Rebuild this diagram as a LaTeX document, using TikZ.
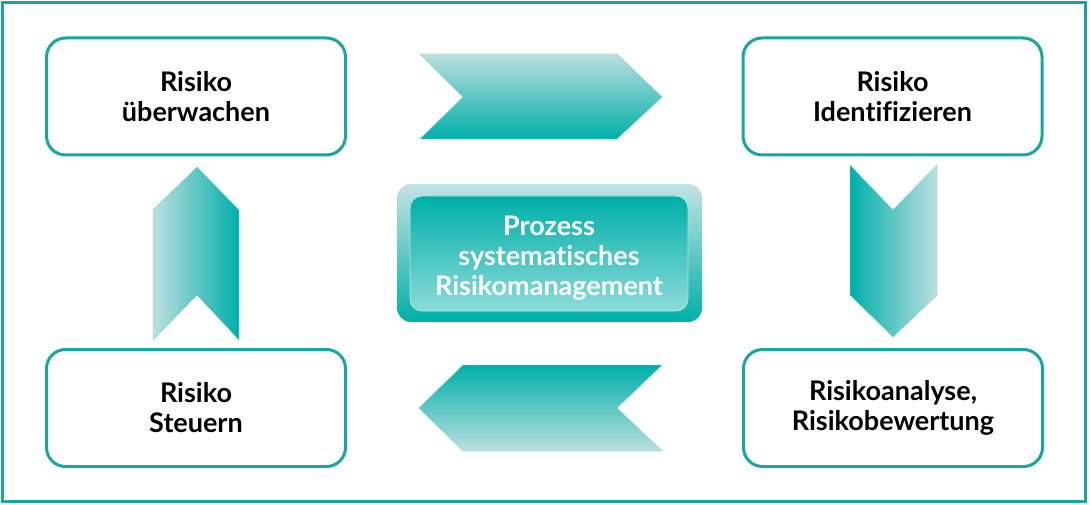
\documentclass[tikz,border=0pt]{standalone}
\usepackage{fontspec}
\setmainfont{Lato}[Ligatures=NoCommon]
\usepackage{xcolor}
\usepackage{tikz}
\usetikzlibrary{positioning}

\definecolor{riskteal}{HTML}{00AFA9}
\definecolor{risklight}{HTML}{BCDFDF}
\definecolor{riskline}{HTML}{17A6A0}

\tikzset{
  stepbox/.style={draw=riskline, line width=3pt, rounded corners=19pt, fill=white,
    minimum width=299pt, minimum height=117pt, align=center,
    font=\fontsize{27}{30}\selectfont\bfseries},
  chevron/.style={draw=riskteal!55, line width=0.4pt},
}

\begin{document}
\begin{tikzpicture}[x=1pt, y=-1pt]
      \useasboundingbox (0,0) rectangle (1090,505);

      % Outer frame
      \draw[riskline, line width=3pt] (2.5,2.5) rectangle (1085.5,501.5);

      % Four process steps
      \node[stepbox] (watch) at (196,96.5) {Risiko\\überwachen};
      \node[stepbox] (identify) at (892.5,96.5) {Risiko\\Identifizieren};
      \node[stepbox] (control) at (196,408) {Risiko\\Steuern};
      \node[stepbox] (assess) at (893,408) {Risikoanalyse,\\Risikobewertung};

      % Chevron from watch to identify
      \shade[chevron, top color=risklight, bottom color=riskteal]
        (420,54) -- (617,54) -- (662,97) -- (617,139) -- (420,139) -- (463,97) -- cycle;

      % Chevron from identify down to assess
      \shade[chevron, left color=riskteal, right color=risklight]
        (850,165) -- (893,210) -- (937,165) -- (937,295) -- (893,337) -- (850,295) -- cycle;

      % Chevron from assess back to control
      \shade[chevron, top color=riskteal, bottom color=risklight]
        (463,365) -- (662,365) -- (617,408) -- (662,451) -- (463,451) -- (419,408) -- cycle;

      % Chevron from control up to watch
      \shade[chevron, left color=risklight, right color=riskteal]
        (197,167) -- (239,210) -- (239,340) -- (197,295) -- (153,340) -- (153,210) -- cycle;

      % Centre box
      \node[rounded corners=14pt, top color=risklight!90!white, bottom color=riskteal,
        minimum width=305pt, minimum height=138pt] (frame) at (549.5,253) {};
      \node[rounded corners=12pt, draw=white!70!riskteal, line width=0.8pt,
        top color=riskteal, middle color=riskteal!92!white, bottom color=riskteal!45!white,
        minimum width=278pt, minimum height=115pt, align=center, text=white,
        font=\fontsize{27}{30}\selectfont\bfseries] (process) at (549,253.5)
        {\rule{0pt}{28pt}Prozess\\systematisches\\Risikomanagement};

    \end{tikzpicture}
\end{document}
